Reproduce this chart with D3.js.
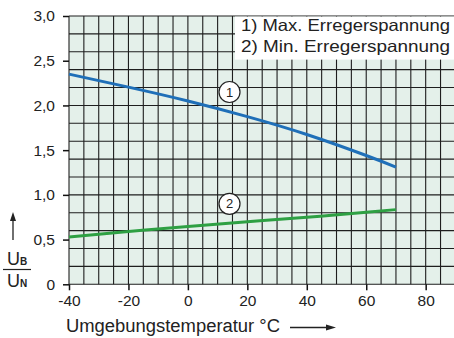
<!DOCTYPE html>
<html><head><meta charset="utf-8">
<script src="https://cdn.jsdelivr.net/npm/d3@7"></script>
<style>
html,body{margin:0;padding:0;background:#fff;}
svg{display:block;font-family:"Liberation Sans",Arial,sans-serif;}
</style></head>
<body>
<svg id="c" width="454" height="338"></svg>
<script>
const temps = [-40, -20, 0, 20, 40, 60, 70];
const maxErreger = [2.35, 2.205, 2.05, 1.875, 1.675, 1.44, 1.31];
const minErreger = [0.53, 0.59, 0.645, 0.70, 0.75, 0.805, 0.835];
const xTicks = [-40, -20, 0, 20, 40, 60, 80];
const yTicks = [0, 0.5, 1.0, 1.5, 2.0, 2.5, 3.0];
const legendLabels = ["1) Max. Erregerspannung", "2) Min. Erregerspannung"];
const curveMarks = ["1", "2"];

const svg = d3.select("#c");
const x = d3.scaleLinear().domain([-40, 90]).range([69, 455.4]);
const y = d3.scaleLinear().domain([0, 3]).range([284.3, 16]);

// plot background
svg.append("rect").attr("x", x(-40)).attr("y", y(3)).attr("width", x(90) - x(-40)).attr("height", y(0) - y(3)).attr("fill", "#e4f0ea");

// grid
const g = svg.append("g").attr("stroke", "#1e1e1e").attr("stroke-width", 1.1);
d3.range(-40, 91, 5).forEach(v => g.append("line").attr("x1", x(v)).attr("x2", x(v)).attr("y1", y(0)).attr("y2", y(3)));
d3.range(0, 16).forEach(i => { const v = i * 0.2; g.append("line").attr("x1", x(-40)).attr("x2", x(90)).attr("y1", y(v)).attr("y2", y(v)); });

// axes
const fmt = v => v === 0 ? "0" : d3.format(".1f")(v).replace(".", ",");
const ya = svg.append("g").attr("transform", `translate(${x(-40)},0)`).call(d3.axisLeft(y).tickValues(yTicks).tickFormat(fmt).tickSize(6).tickPadding(8));
const xa = svg.append("g").attr("transform", `translate(0,${y(0)})`).call(d3.axisBottom(x).tickValues(xTicks).tickFormat(v => String(v)).tickSize(6).tickPadding(5));
[ya, xa].forEach(a => {
  a.select(".domain").remove();
  a.selectAll(".tick line").attr("stroke", "#111").attr("stroke-width", 1.5);
  a.selectAll("text").attr("fill", "#222").style("font-size", "15.5px").style("font-family", "'Liberation Sans',Arial,sans-serif");
});

// curves
const line = d3.line().x((d, i) => x(temps[i])).y(d => y(d)).curve(d3.curveNatural);
svg.append("path").datum(maxErreger).attr("d", line).attr("fill", "none").attr("stroke", "#1f6fb8").attr("stroke-width", 3);
svg.append("path").datum(minErreger).attr("d", line).attr("fill", "none").attr("stroke", "#2ea043").attr("stroke-width", 3);

// circled marks
const markPos = [[14, 2.15], [14, 0.9]];
curveMarks.forEach((m, i) => {
  const cx = x(markPos[i][0]), cy = y(markPos[i][1]);
  svg.append("circle").attr("cx", cx).attr("cy", cy).attr("r", 10.5).attr("fill", "#fff").attr("stroke", "#222").attr("stroke-width", 1.2);
  svg.append("text").attr("x", cx).attr("y", cy + 4.5).attr("text-anchor", "middle").style("font-size", "13px").attr("fill", "#222").text(m);
});

// legend
svg.append("rect").attr("x", 235).attr("y", y(3) + 0.6).attr("width", 230).attr("height", 43).attr("fill", "#fff");
legendLabels.forEach((t, i) => {
  svg.append("text").attr("x", 241).attr("y", 31 + i * 21).style("font-size", "16.5px").attr("fill", "#222")
    .attr("textLength", 209).attr("lengthAdjust", "spacingAndGlyphs").text(t);
});

// y-axis title
svg.append("line").attr("x1", 13).attr("x2", 13).attr("y1", 240).attr("y2", 220).attr("stroke", "#222").attr("stroke-width", 1.3);
svg.append("path").attr("d", "M13,212 L10,221 L16,221 Z").attr("fill", "#222");
const ub = svg.append("text").attr("x", 7).attr("y", 265).style("font-size", "18px").attr("fill", "#222");
ub.append("tspan").text("U");
ub.append("tspan").style("font-size", "10px").style("font-weight", "bold").text("B");
svg.append("line").attr("x1", 3).attr("x2", 31).attr("y1", 269.5).attr("y2", 269.5).attr("stroke", "#222").attr("stroke-width", 1.2);
const un = svg.append("text").attr("x", 7).attr("y", 287).style("font-size", "18px").attr("fill", "#222");
un.append("tspan").text("U");
un.append("tspan").style("font-size", "10px").style("font-weight", "bold").text("N");

// x-axis title
svg.append("text").attr("x", 66).attr("y", 332).style("font-size", "18px").attr("fill", "#222")
  .attr("textLength", 214).attr("lengthAdjust", "spacingAndGlyphs").text("Umgebungstemperatur °C");
svg.append("line").attr("x1", 290).attr("x2", 326).attr("y1", 327.5).attr("y2", 327.5).attr("stroke", "#222").attr("stroke-width", 1.3);
svg.append("path").attr("d", "M336,327.5 L326,324.5 L326,330.5 Z").attr("fill", "#222");
</script>
</body></html>
